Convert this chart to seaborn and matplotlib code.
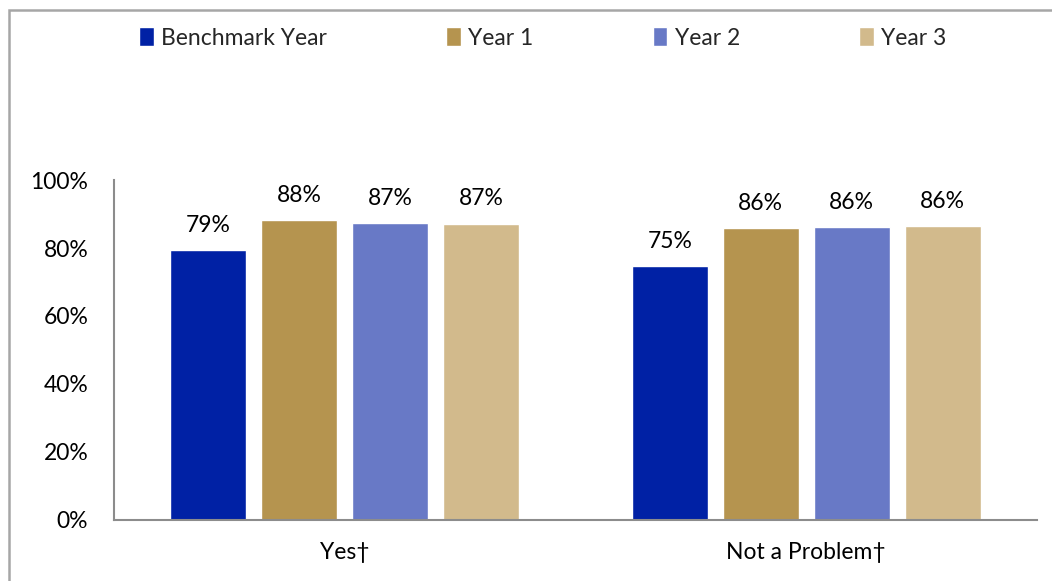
import matplotlib
matplotlib.use("Agg")
import matplotlib.pyplot as plt
from matplotlib.patches import Rectangle
import seaborn as sns
import pandas as pd

categories = ["Yes\u2020", "Not a Problem\u2020"]
series = ["Benchmark Year", "Year 1", "Year 2", "Year 3"]
values = {
    "Benchmark Year": [79.3, 74.7],
    "Year 1": [88.3, 86.0],
    "Year 2": [87.4, 86.3],
    "Year 3": [87.2, 86.5],
}
colors = ["#0021A5", "#B5944F", "#6879C6", "#D2BA8C"]
yticks = [0, 20, 40, 60, 80, 100]

rows = [(c, s, values[s][i]) for s in series for i, c in enumerate(categories)]
df = pd.DataFrame(rows, columns=["category", "series", "value"])

sns.set_theme(style="white")
plt.rcParams["font.family"] = ["Lato", "DejaVu Sans"]
FS = 16.5

fig = plt.figure(figsize=(10.52, 5.81), dpi=100)
ax = fig.add_axes([114 / 1052, 61 / 581, 923 / 1052, 340 / 581])

sns.barplot(data=df, x="category", y="value", hue="series", order=categories,
            hue_order=series, palette=colors, width=0.789, gap=0.165,
            saturation=1, ax=ax, legend=True, errorbar=None)

for container in ax.containers:
    for bar in container:
        h = bar.get_height()
        ax.annotate(f"{h:.0f}%", (bar.get_x() + bar.get_width() / 2, h),
                    xytext=(0, 13), textcoords="offset points",
                    ha="center", va="baseline", fontsize=FS, color="#000000")

ax.set_xlim(-0.5, 1.5)
ax.set_ylim(0, 100)
ax.set_yticks(yticks)
ax.set_yticklabels([f"{t}%" for t in yticks])
ax.set_xticks([-0.5, 0.5, 1.5], minor=True)
ax.tick_params(axis="x", which="major", length=0, pad=16, labelsize=FS)
ax.tick_params(axis="x", which="minor", length=6.5, width=1.5, color="#8c8c8c", direction="out")
ax.tick_params(axis="y", length=6.5, width=1.5, color="#8c8c8c", direction="out",
               pad=12, labelsize=FS)
ax.tick_params(labelcolor="#000000")
for side in ["top", "right"]:
    ax.spines[side].set_visible(False)
for side in ["left", "bottom"]:
    ax.spines[side].set_color("#8c8c8c")
    ax.spines[side].set_linewidth(1.5)
ax.set_xlabel("")
ax.set_ylabel("")

handles, labels = ax.get_legend_handles_labels()
ax.get_legend().remove()
fig.legend(handles, labels, loc="center", bbox_to_anchor=(543 / 1052, 1 - 38 / 581),
           ncol=4, frameon=False, fontsize=FS, handlelength=0.62, handleheight=0.85,
           handletextpad=0.34, columnspacing=5.2)

# chart frame
fig.patches.append(Rectangle((9 / 1052, -0.1), 1.2, 1 - 10 / 581 + 0.1,
                             transform=fig.transFigure, fill=False,
                             edgecolor="#a6a6a6", linewidth=1.8))

fig.savefig("out.png", dpi=100)
